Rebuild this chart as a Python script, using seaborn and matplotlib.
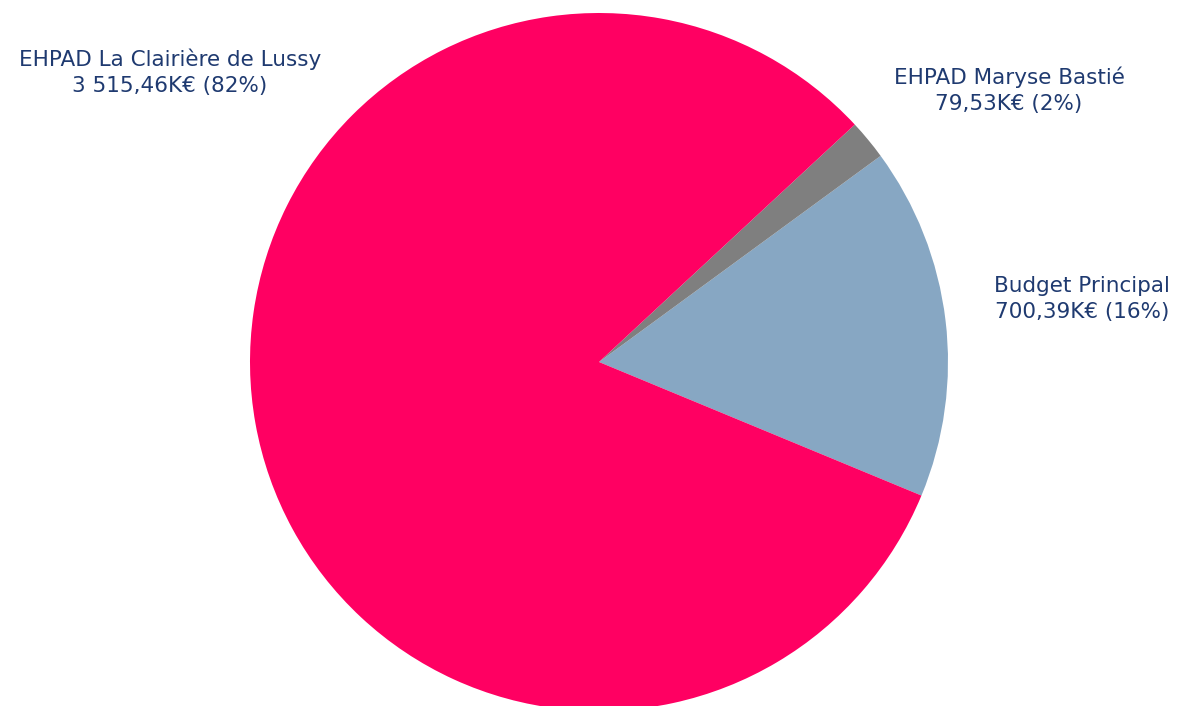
import matplotlib
matplotlib.use("Agg")
import matplotlib.pyplot as plt
import seaborn as sns

# data
budgets = ["Budget Principal", "EHPAD Maryse Bastié", "EHPAD La Clairière de Lussy"]
values_k = [700.39, 79.53, 3515.46]
colors = ["#87A7C3", "#7F7F7F", "#FF0062"]

sns.set_theme(style="white")
plt.rcParams["font.family"] = ["DejaVu Sans"]

W, H = 1180, 706
fig = plt.figure(figsize=(W / 100, H / 100), dpi=100)
ax = fig.add_axes([0, 0, 1, 1])

ax.pie(values_k, colors=colors, startangle=-22.5, counterclock=True,
       center=(599, H - 362), radius=349, frame=True,
       wedgeprops=dict(linewidth=0))
ax.set_xlim(0, W)
ax.set_ylim(0, H)
ax.set_aspect("equal")
ax.axis("off")


def fmt_k(v):
    s = f"{v:,.2f}".replace(",", " ").replace(".", ",")
    return s + "K€"


total = sum(values_k)
# label anchor positions (pixels from top-left)
label_pos = [(1082, 299), (1009, 90), (170, 72)]
for name, v, (x, y) in zip(budgets, values_k, label_pos):
    pct = round(v / total * 100)
    ax.text(x, H - y, f"{name}\n{fmt_k(v)} ({pct}%)", ha="center", va="center",
            fontsize=15.5, color="#1F3A70", linespacing=1.4)

fig.savefig("out.png", dpi=100)
